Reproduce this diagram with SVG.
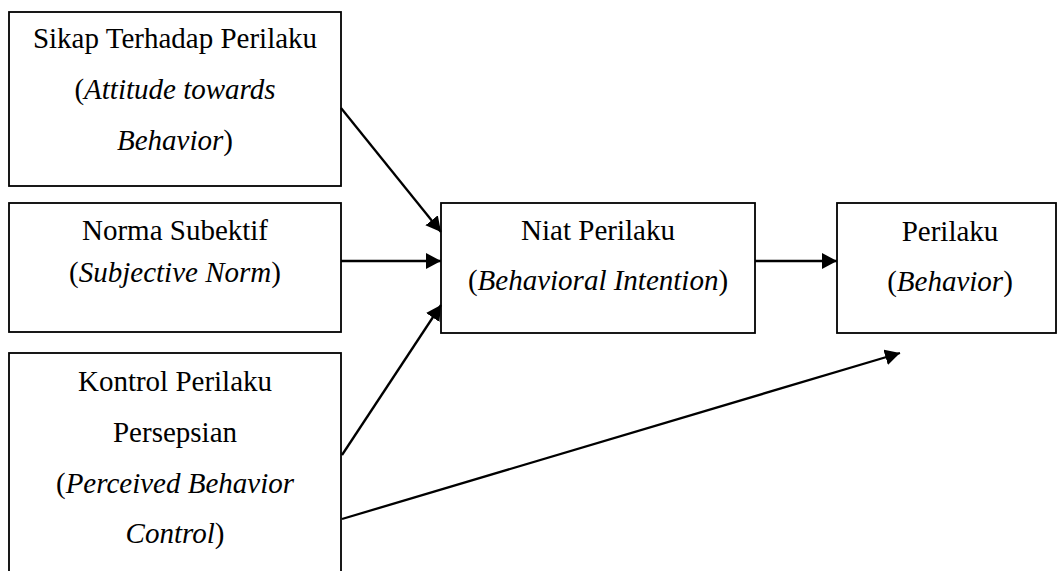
<svg xmlns="http://www.w3.org/2000/svg" width="1057" height="571" viewBox="0 0 1057 571">
<style>
.box{fill:#fff;stroke:#000;stroke-width:1.8}
.t{font-family:"Liberation Serif","Times New Roman",serif;font-size:29px;fill:#000;text-anchor:middle}
.i{font-style:italic}
.c{stroke:#000;stroke-width:2.3;fill:none;marker-end:url(#ah)}
</style>
<defs>
<marker id="ah" markerWidth="16" markerHeight="16" refX="15" refY="8" orient="auto" markerUnits="userSpaceOnUse">
<path d="M0,0 L15,8 L0,16 Z" fill="#000"/>
</marker>
</defs>
<rect width="1057" height="571" fill="#fff"/>
<g id="n1">
<rect class="box" x="9" y="12" width="332" height="174"/>
<text class="t" x="175" y="48">Sikap Terhadap Perilaku</text>
<text class="t" x="175" y="99">(<tspan class="i">Attitude towards</tspan></text>
<text class="t" x="175" y="150"><tspan class="i">Behavior</tspan>)</text>
</g>
<g id="n2">
<rect class="box" x="9" y="203" width="332" height="129"/>
<text class="t" x="175" y="240">Norma Subektif</text>
<text class="t" x="175" y="282">(<tspan class="i">Subjective Norm</tspan>)</text>
</g>
<g id="n3">
<rect class="box" x="9" y="353" width="332" height="240"/>
<text class="t" x="175" y="391">Kontrol Perilaku</text>
<text class="t" x="175" y="442">Persepsian</text>
<text class="t" x="175" y="493">(<tspan class="i">Perceived Behavior</tspan></text>
<text class="t" x="175" y="543"><tspan class="i">Control</tspan>)</text>
</g>
<g id="n4">
<rect class="box" x="441" y="203" width="314" height="130"/>
<text class="t" x="598" y="240">Niat Perilaku</text>
<text class="t" x="598" y="290">(<tspan class="i">Behavioral Intention</tspan>)</text>
</g>
<g id="n5">
<rect class="box" x="837" y="203" width="219" height="130"/>
<text class="t" x="950" y="241">Perilaku</text>
<text class="t" x="950" y="291">(<tspan class="i">Behavior</tspan>)</text>
</g>
<g id="connectors">
<line class="c" x1="341" y1="108" x2="441" y2="232"/>
<line class="c" x1="341" y1="261" x2="441" y2="261"/>
<line class="c" x1="342" y1="455" x2="441" y2="305"/>
<line class="c" x1="342" y1="519" x2="900" y2="353"/>
<line class="c" x1="755" y1="261" x2="837" y2="261"/>
</g>
</svg>
